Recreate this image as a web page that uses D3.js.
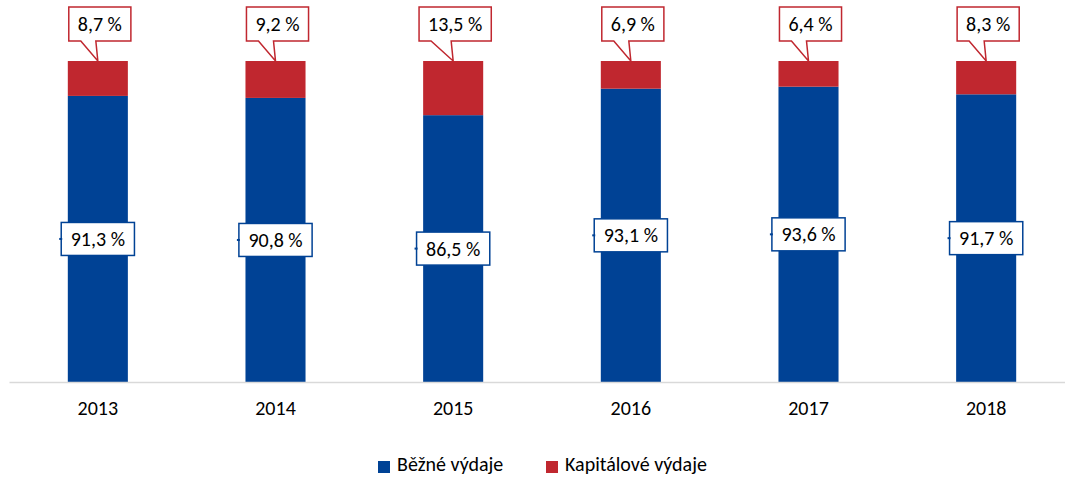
<!DOCTYPE html>
<html>
<head>
<meta charset="utf-8">
<script src="https://cdn.jsdelivr.net/npm/d3@7"></script>
<style>
  body { margin: 0; background: #fff; }
  text { font-family: Carlito, Calibri, "Open Sans", sans-serif; fill: #000; }
</style>
</head>
<body>
<div class="canvas"></div>
<script>
const years = ['2013', '2014', '2015', '2016', '2017', '2018'];
const bezne = [91.3, 90.8, 86.5, 93.1, 93.6, 91.7];
const kapitalove = [8.7, 9.2, 13.5, 6.9, 6.4, 8.3];
const seriesNames = ['Běžné výdaje', 'Kapitálové výdaje'];
const colors = ['#004295', '#c0272f'];

const svgWidth = 1065;
const svgHeight = 477;
const margin = { top: 61, right: -10, bottom: 95, left: 9 };
const graphWidth = svgWidth - margin.left - margin.right;
const graphHeight = svgHeight - margin.top - margin.bottom;
const fontSize = 20;

const fmt = v => d3.format('.1f')(v).replace('.', ',') + ' %';

const svg = d3.select('.canvas')
  .append('svg')
    .attr('width', svgWidth)
    .attr('height', svgHeight);

const g = svg.append('g')
  .attr('transform', `translate(${margin.left}, ${margin.top})`);

// scales (value axis starts at 20 %, as in the original)
const x = d3.scaleBand().domain(years).range([0, graphWidth]).paddingInner(0.662).paddingOuter(0.331);
const y = d3.scaleLinear().domain([20, 100]).range([graphHeight, 0]);

const data = years.map((yr, i) => ({ year: yr, bezne: bezne[i], kapitalove: kapitalove[i] }));
const stack = d3.stack().keys(['bezne', 'kapitalove'])(data);

// bars
g.selectAll('g.layer')
  .data(stack)
  .join('g')
    .attr('class', 'layer')
    .attr('fill', (d, i) => colors[i])
  .selectAll('rect')
  .data(d => d)
  .join('rect')
    .attr('x', d => x(d.data.year))
    .attr('y', d => y(d[1]))
    .attr('width', x.bandwidth())
    .attr('height', d => y(Math.max(d[0], 20)) - y(d[1]));

// x axis
const xAxis = d3.axisBottom(x).tickSize(0).tickPadding(19);
const xAxisGroup = g.append('g')
  .attr('transform', `translate(0, ${graphHeight})`)
  .call(xAxis);
xAxisGroup.select('.domain').attr('stroke', '#d9d9d9').attr('stroke-width', 1.3);
xAxisGroup.selectAll('text').attr('font-size', fontSize).attr('font-family', 'Carlito, Calibri, "Open Sans", sans-serif');

// labels for Běžné výdaje (middle of blue segment)
data.forEach(d => {
  const cx = x(d.year) + x.bandwidth() / 2;
  const cy = (y(20) + y(d.bezne)) / 2;
  const lg = g.append('g');
  const t = lg.append('text')
    .attr('x', cx).attr('y', cy)
    .attr('text-anchor', 'middle')
    .attr('dominant-baseline', 'central')
    .attr('font-size', fontSize)
    .text(fmt(d.bezne));
  const w = t.node().getComputedTextLength() + 19;
  lg.insert('rect', 'text')
    .attr('x', cx - w / 2).attr('y', cy - 16.5)
    .attr('width', w).attr('height', 33)
    .attr('fill', '#fff')
    .attr('stroke', colors[0])
    .attr('stroke-width', 1.5);
  lg.append('line')
    .attr('x1', cx - w / 2 - 2).attr('x2', cx - w / 2 + 1)
    .attr('y1', cy).attr('y2', cy)
    .attr('stroke', colors[0]).attr('stroke-width', 2);
});

// callouts for Kapitálové výdaje (above bar)
data.forEach(d => {
  const cx = x(d.year) + x.bandwidth() / 2;
  const boxTop = 7 - margin.top;
  const boxH = 34;
  const lg = g.append('g');
  const t = lg.append('text')
    .attr('x', cx + 2).attr('y', boxTop + boxH / 2)
    .attr('text-anchor', 'middle')
    .attr('dominant-baseline', 'central')
    .attr('font-size', fontSize)
    .text(fmt(d.kapitalove));
  const w = t.node().getComputedTextLength() + 18;
  const left = cx + 2 - w / 2;
  const right = left + w;
  const bottom = boxTop + boxH;
  const tipY = y(100);
  const path = `M${left},${boxTop} H${right} V${bottom} H${cx - 2} L${cx},${tipY} L${left + 12},${bottom} H${left} Z`;
  lg.insert('path', 'text')
    .attr('d', path)
    .attr('fill', '#fff')
    .attr('stroke', colors[1])
    .attr('stroke-width', 1.5);
});

// legend
const legend = svg.append('g').attr('transform', 'translate(378, 471)');
const legendX = [0, 168];
seriesNames.forEach((name, i) => {
  const lgi = legend.append('g').attr('transform', `translate(${legendX[i]}, 0)`);
  lgi.append('rect')
    .attr('x', 0).attr('y', -10)
    .attr('width', 12).attr('height', 12)
    .attr('fill', colors[i]);
  lgi.append('text')
    .attr('x', 19).attr('y', 0)
    .attr('font-size', fontSize)
    .text(name);
});
</script>
</body>
</html>
